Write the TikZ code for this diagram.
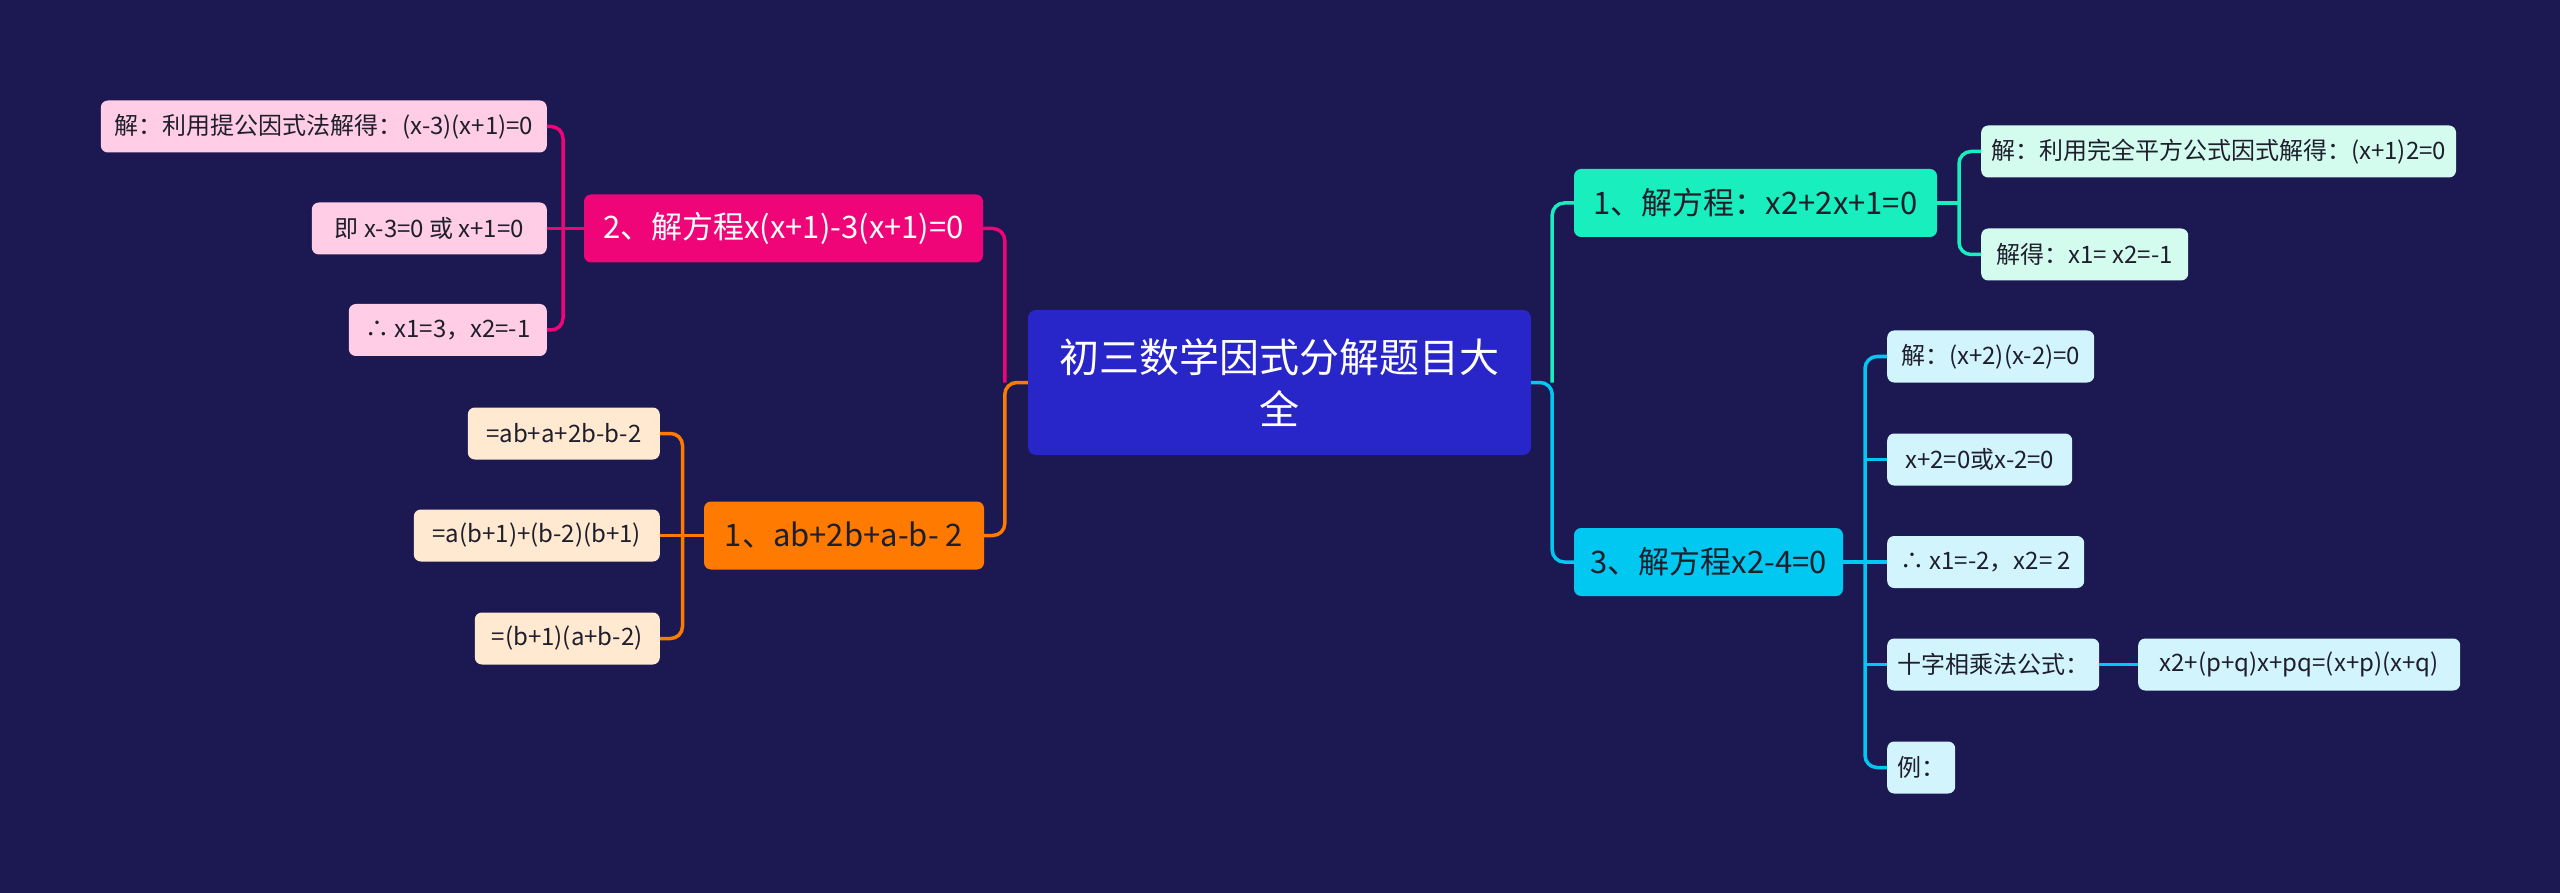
\documentclass[tikz,border=0pt]{standalone}
\usepackage{fontspec}
\setmainfont{Noto Sans CJK SC}
\usetikzlibrary{positioning}
\definecolor{NightBg}{RGB}{27,24,82}
\definecolor{RootBlue}{RGB}{40,38,200}
\definecolor{RosePink}{RGB}{240,5,120}
\definecolor{SunOrange}{RGB}{255,122,0}
\definecolor{MintGreen}{RGB}{25,238,190}
\definecolor{SkyCyan}{RGB}{0,200,240}
\definecolor{RoseLeaf}{RGB}{255,206,230}
\definecolor{CreamLeaf}{RGB}{255,233,208}
\definecolor{MintLeaf}{RGB}{212,252,238}
\definecolor{SkyLeaf}{RGB}{210,244,252}
\definecolor{LeafInk}{RGB}{30,30,44}

\begin{document}
\begin{tikzpicture}[x=1pt,y=-1pt,
  root/.style={rounded corners=8pt,fill=RootBlue,text=white,align=center,font=\fontsize{40}{52}\selectfont,minimum width=503,minimum height=145},
  topic/.style={rounded corners=7pt,font=\fontsize{31}{37}\selectfont,minimum height=68,inner xsep=12},
  leaf/.style={rounded corners=7pt,font=\fontsize{24}{29}\selectfont,text=LeafInk,minimum height=52,inner xsep=10},
  branchline/.style={line width=3.5pt,rounded corners=12pt}]
\path[use as bounding box,fill=NightBg] (0,0) rectangle (2560,893);
\node[root] (ctr) at (1279.5,382.5){初三数学因式分解题目大\\全};
\node[topic,fill=RosePink,text=white,minimum width=399] (b2) at (783.5,228.5){2、解方程x(x+1)-3(x+1)=0};
\node[topic,fill=SunOrange,text=LeafInk,minimum width=280] (b1) at (844,535.5){1、ab+2b+a-b- 2};
\node[topic,fill=MintGreen,text=LeafInk,minimum width=363] (g1) at (1755.5,203){1、解方程：x2+2x+1=0};
\node[topic,fill=SkyCyan,text=LeafInk,minimum width=269] (b3) at (1708.5,562){3、解方程x2-4=0};
\node[leaf,fill=RoseLeaf,anchor=east,minimum width=446] (c21) at (547,126.5){解：利用提公因式法解得：(x-3)(x+1)=0};
\node[leaf,fill=RoseLeaf,anchor=east,minimum width=235] (c22) at (547,228.5){即 x-3=0 或 x+1=0};
\node[leaf,fill=RoseLeaf,anchor=east,minimum width=198] (c23) at (547,330){∴ x1=3，x2=-1};
\node[leaf,fill=CreamLeaf,anchor=east,minimum width=192] (c11) at (660,433.5){=ab+a+2b-b-2};
\node[leaf,fill=CreamLeaf,anchor=east,minimum width=246] (c12) at (660,535.5){=a(b+1)+(b-2)(b+1)};
\node[leaf,fill=CreamLeaf,anchor=east,minimum width=185] (c13) at (660,638.5){=(b+1)(a+b-2)};
\node[leaf,fill=MintLeaf,anchor=west,minimum width=472] (d11) at (1981,151.5){解：利用完全平方公式因式解得：(x+1)2=0};
\node[leaf,fill=MintLeaf,anchor=west,minimum width=207] (d12) at (1981,254.5){解得：x1= x2=-1};
\node[leaf,fill=SkyLeaf,anchor=west,minimum width=207] (e1) at (1887,356.5){解：(x+2)(x-2)=0};
\node[leaf,fill=SkyLeaf,anchor=west,minimum width=185] (e2) at (1887,459.5){x+2=0或x-2=0};
\node[leaf,fill=SkyLeaf,anchor=west,minimum width=197] (e3) at (1887,562){∴ x1=-2，x2= 2};
\node[leaf,fill=SkyLeaf,anchor=west,minimum width=207] (e4) at (1887,664.5){十字相乘法公式：};
\node[leaf,fill=SkyLeaf,anchor=west,minimum width=68] (e5) at (1887,767.5){例：};
\node[leaf,fill=SkyLeaf,anchor=west,minimum width=322] (f1) at (2138,664.5){x2+(p+q)x+pq=(x+p)(x+q)};
\draw[branchline,RosePink] (b2.east) -| ([xshift=-23pt]ctr.west);
\draw[branchline,SunOrange] (b1.east) -| ([xshift=-23pt]ctr.west) -- (ctr.west);
\draw[branchline,MintGreen] (g1.west) -| ([xshift=21pt]ctr.east);
\draw[branchline,SkyCyan] (b3.west) -| ([xshift=21pt]ctr.east) -- (ctr.east);
\draw[branchline,RosePink] (c21.east) -- ++(16,0) |- (c23.east);
\draw[branchline,RosePink] (b2.west) -- (c22.east);
\draw[branchline,SunOrange] (c11.east) -- ++(22.5,0) |- (c13.east);
\draw[branchline,SunOrange] (b1.west) -- (c12.east);
\draw[branchline,MintGreen] (d11.west) -- ++(-22,0) |- (d12.west);
\draw[branchline,MintGreen] (g1.east) -- ++(22,0);
\draw[branchline,SkyCyan] (e1.west) -- ++(-22,0) |- (e5.west);
\foreach \c in {e2,e4} \draw[branchline,SkyCyan] (\c.west) -- ++(-22,0);
\draw[branchline,SkyCyan] (b3.east) -- (e3.west);
\draw[branchline,SkyCyan] (e4.east) -- (f1.west);
\end{tikzpicture}
\end{document}
